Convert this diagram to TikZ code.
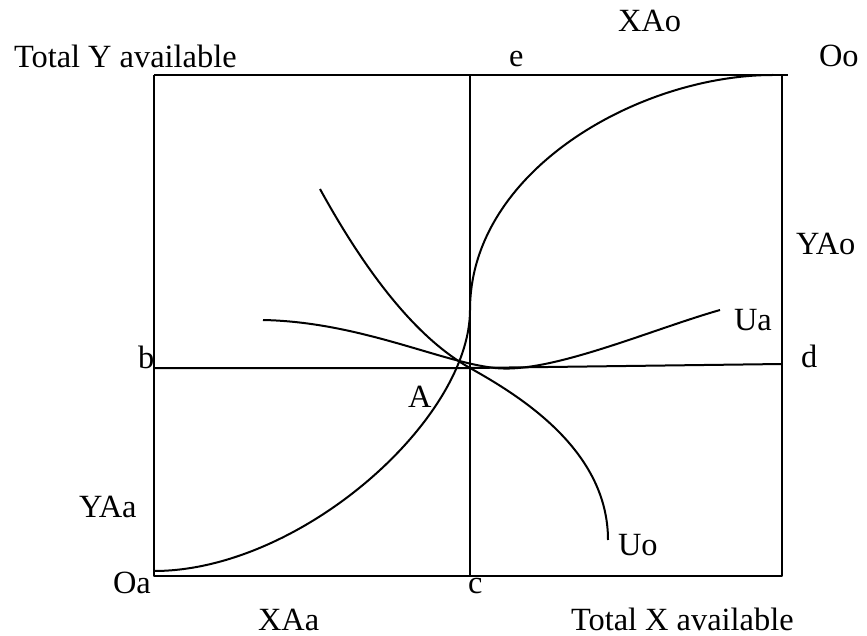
\documentclass[tikz,border=0pt]{standalone}
\usepackage{fontspec}
\setmainfont{Liberation Serif}
\begin{document}
\begin{tikzpicture}[x=0.5pt,y=-0.5pt,line width=1pt,line join=round,
  lbl/.style={inner sep=0pt,anchor=base west,font=\fontsize{16.2}{19}\selectfont},
  curve/.style={line width=1pt}]
\useasboundingbox (0,0) rectangle (867,636);
% frame corners and points
\coordinate (Oa) at (154,576);
\coordinate (TL) at (154,75);
\coordinate (TR) at (782,75);
\coordinate (TRx) at (788,75);
\coordinate (BR) at (782,576);
\coordinate (E) at (470,75);
\coordinate (C) at (470,576);
\coordinate (B) at (154,368);
\coordinate (M) at (470,368);
\coordinate (D) at (782,364);
% box
\draw (TL) -- (TRx);
\draw (TL) -- (Oa) -- (BR) -- (TR);
\draw (E) -- (C);
\draw (B) -- (M) -- (D);
% contract curve
\coordinate (ccS) at (154,571);
\coordinate (ccM) at (470,310);
\coordinate (ccE) at (773,75);
\draw[curve] (ccS) .. controls (300,571) and (470,420) .. (ccM)
  .. controls (470,170) and (640,75) .. (ccE);
% indifference curve Uo
\coordinate (uoS) at (320,189);
\coordinate (uoA) at (470,368);
\coordinate (uoE) at (608,540);
\draw[curve] (uoS) .. controls (370,280) and (420,340) .. (uoA)
  .. controls (520,396) and (608,450) .. (uoE);
% indifference curve Ua
\coordinate (uaS) at (263,320);
\coordinate (uaM) at (495,368);
\coordinate (uaE) at (720,310);
\draw[curve] (uaS) .. controls (360,322) and (440,362) .. (uaM)
  .. controls (550,374) and (650,330) .. (uaE);
% labels
\node[lbl] (tya) at (13,68) {Total Y available};
\node[lbl] (xao) at (617,32) {XAo};
\node[lbl] (le) at (508,67) {e};
\node[lbl] (loo) at (818,67) {Oo};
\node[lbl] (yao) at (795,255) {YAo};
\node[lbl] (lua) at (733,330) {Ua};
\node[lbl] (ld) at (800,367) {d};
\node[lbl] (lb) at (137,368) {b};
\node[lbl] (la) at (407,407) {A};
\node[lbl] (yaa) at (78,517) {YAa};
\node[lbl] (loa) at (112,593) {Oa};
\node[lbl] (lc) at (467,593) {c};
\node[lbl] (xaa) at (257,630) {XAa};
\node[lbl] (luo) at (617,555) {Uo};
\node[lbl] (txa) at (570,630) {Total X available};
\end{tikzpicture}
\end{document}
